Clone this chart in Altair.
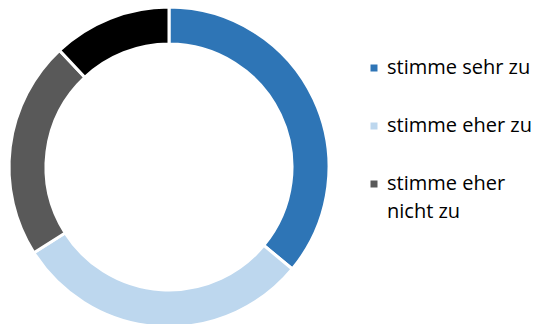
import altair as alt
import pandas as pd

categories = ["stimme sehr zu", "stimme eher zu", "stimme eher nicht zu", "stimme gar nicht zu"]
values = [36, 30, 22, 12]
colors = ["#2E75B6", "#BDD7EE", "#595959", "#000000"]
legend_categories = ["stimme sehr zu", "stimme eher zu", "stimme eher nicht zu"]
legend_labels = ["stimme sehr zu", "stimme eher zu", "stimme eher\nnicht zu"]

df = pd.DataFrame({"category": categories, "value": values, "order": list(range(len(categories)))})
leg = pd.DataFrame({"category": legend_categories, "label": legend_labels})

color_scale = alt.Scale(domain=categories, range=colors)

donut = alt.Chart(df).mark_arc(
    outerRadius=160, innerRadius=123, stroke="white", strokeWidth=3
).encode(
    theta=alt.Theta("value:Q", stack=True),
    order=alt.Order("order:Q"),
    color=alt.Color("category:N", scale=color_scale, legend=None),
    x=alt.value(169),
    y=alt.value(167),
)

yscale = alt.Scale(domain=legend_categories, range=[68, 184], padding=0)

squares = alt.Chart(leg).mark_square(size=49, opacity=1).encode(
    x=alt.value(374),
    y=alt.Y("category:N", scale=yscale, axis=None),
    color=alt.Color("category:N", scale=color_scale, legend=None),
)

texts = alt.Chart(leg).mark_text(
    align="left", baseline="alphabetic", dy=6, font="Open Sans", fontSize=20,
    lineHeight=28, lineBreak="\n", color="#000000"
).encode(
    x=alt.value(387),
    y=alt.Y("category:N", scale=yscale, axis=None),
    text="label:N",
)

chart = alt.layer(donut, squares, texts).properties(
    width=539, height=324, padding=0, autosize="none"
).configure_view(stroke=None)

chart.save("out.html", embed_options={"renderer": "svg", "actions": False})
